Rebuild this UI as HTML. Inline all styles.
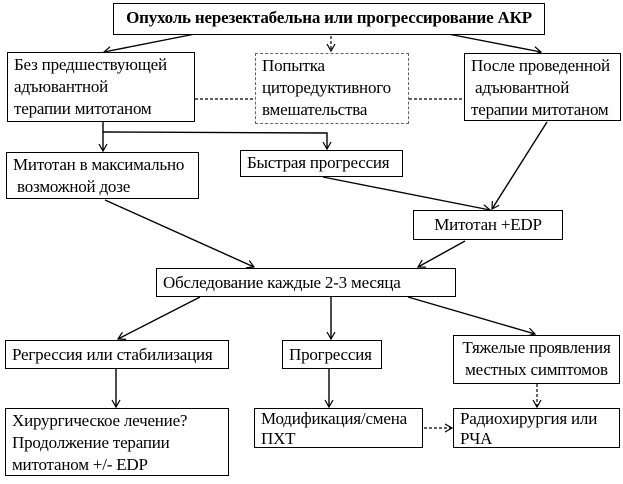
<!DOCTYPE html>
<html><head><meta charset="utf-8"><style>
body{margin:0;background:#fff;width:623px;height:484px;overflow:hidden;position:relative;font-family:"Liberation Serif","Noto Serif CJK SC",serif;font-size:17px;color:#000}
.b{position:absolute;border:1px solid #000;box-sizing:border-box;background:#fff;line-height:22px;padding:1px 6px;white-space:nowrap;letter-spacing:-0.2px}
svg{position:absolute;left:0;top:0}
</style></head><body>
<svg width="623" height="484">
<defs><marker id="a" markerWidth="10" markerHeight="10" refX="8" refY="5" orient="auto" markerUnits="userSpaceOnUse"><path d="M1,1 L8,5 L1,9" fill="none" stroke="#000" stroke-width="1.2"/></marker></defs>
<g stroke="#000" stroke-width="1.4" fill="none" marker-end="url(#a)">
<line x1="200" y1="33" x2="104" y2="52"/>
<line x1="443" y1="33" x2="541" y2="52"/>
<line x1="103" y1="122" x2="103" y2="151"/>
<polyline points="103,132 327,133 327,149"/>
<line x1="547" y1="122" x2="492" y2="209"/>
<line x1="323" y1="177" x2="490" y2="210"/>
<line x1="105" y1="200" x2="254" y2="267"/>
<line x1="465" y1="241" x2="418" y2="267"/>
<line x1="200" y1="297" x2="118" y2="339"/>
<line x1="331" y1="297" x2="331" y2="339"/>
<line x1="408" y1="297" x2="535" y2="334"/>
<line x1="116" y1="369" x2="116" y2="407"/>
<line x1="329" y1="369" x2="329" y2="407"/>
</g>
<g stroke="#000" stroke-width="1.2" fill="none" stroke-dasharray="3,2">
<line x1="331" y1="36" x2="331" y2="51" marker-end="url(#a)"/>
<line x1="195" y1="99" x2="255" y2="99"/>
<line x1="409" y1="99" x2="464" y2="99"/>
<line x1="537" y1="384" x2="537" y2="407" marker-end="url(#a)"/>
<line x1="424" y1="428" x2="452" y2="428" marker-end="url(#a)"/>
</g>
</svg>
<div class="b" style="left:113px;top:3px;width:432px;height:32px;font-weight:bold;text-align:center;padding-top:3px">Опухоль нерезектабельна или прогрессирование АКР</div>
<div class="b" style="left:7px;top:52px;width:188px;height:70px;padding-top:1px">Без предшествующей<br>адъювантной<br>терапии митотаном</div>
<div class="b" style="left:255px;top:53px;width:154px;height:71px;border:1px dashed #666">Попытка<br>циторедуктивного<br>вмешательства</div>
<div class="b" style="left:464px;top:53px;width:157px;height:68px;padding-left:6px">После проведенной<br>&nbsp;адъювантной<br>терапии митотаном</div>
<div class="b" style="left:6px;top:152px;width:193px;height:47px">Митотан в максимально<br>&nbsp;возможной дозе</div>
<div class="b" style="left:240px;top:150px;width:163px;height:27px">Быстрая прогрессия</div>
<div class="b" style="left:413px;top:210px;width:150px;height:30px;text-align:center;padding-top:3px">Митотан +EDP</div>
<div class="b" style="left:156px;top:268px;width:300px;height:29px;padding-top:3px">Обследование каждые 2-3 месяца</div>
<div class="b" style="left:5px;top:340px;width:224px;height:29px;padding-top:3px">Регрессия или стабилизация</div>
<div class="b" style="left:282px;top:340px;width:100px;height:29px;padding-top:3px">Прогрессия</div>
<div class="b" style="left:453px;top:335px;width:167px;height:49px;text-align:center">Тяжелые проявления<br>местных симптомов</div>
<div class="b" style="left:5px;top:408px;width:224px;height:68px">Хирургическое лечение?<br>Продолжение терапии<br>митотаном +/- EDP</div>
<div class="b" style="left:254px;top:408px;width:169px;height:40px;line-height:20px;padding-top:0">Модификация/смена<br>ПХТ</div>
<div class="b" style="left:453px;top:408px;width:167px;height:40px;line-height:20px;padding-top:0">Радиохирургия или<br>РЧА</div>
</body></html>
